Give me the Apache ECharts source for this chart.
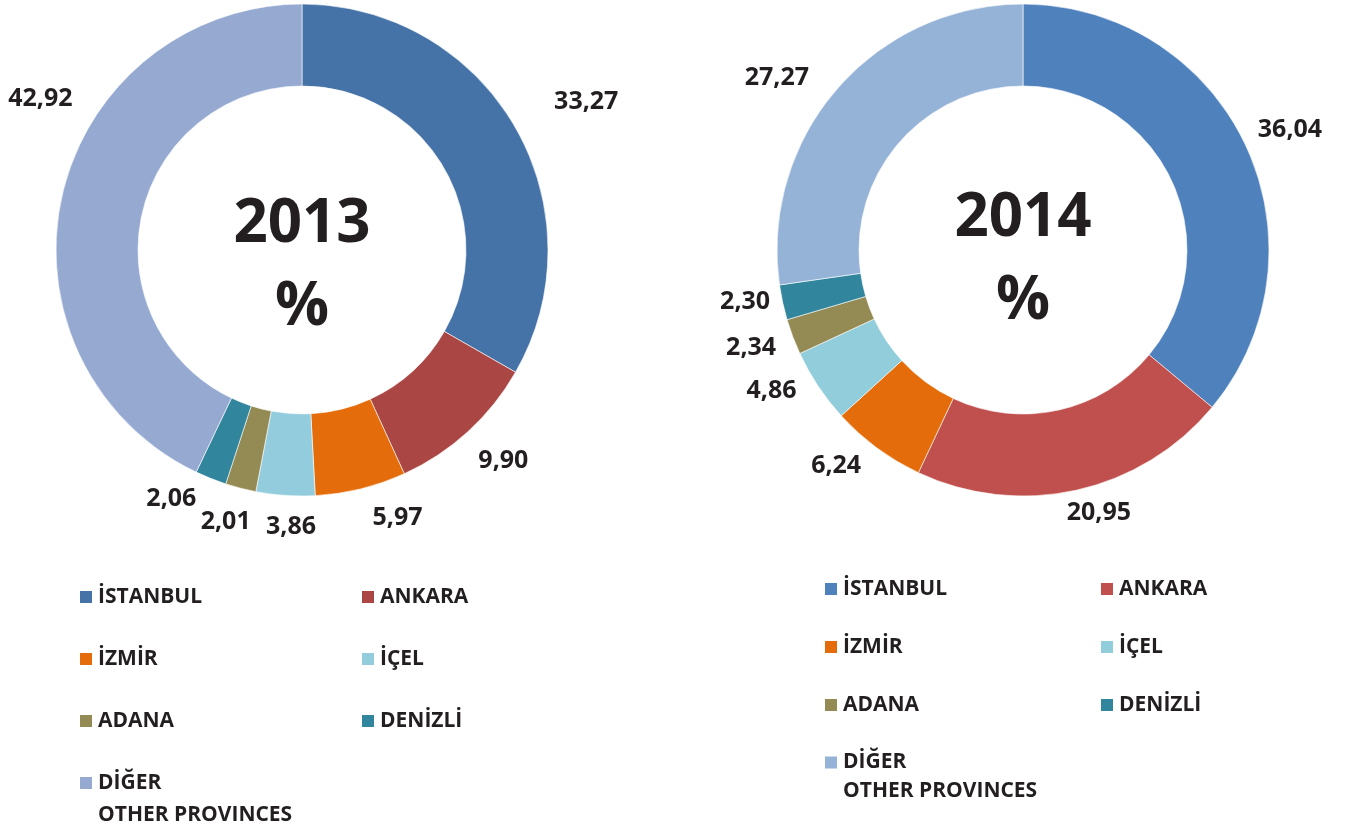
<!DOCTYPE html>
<html>
<head>
<meta charset="utf-8">
<script src="https://cdn.jsdelivr.net/npm/echarts@6/dist/echarts.min.js"></script>
<style>
  html, body { margin: 0; padding: 0; background: #fff; }
  #main { width: 1349px; height: 831px; }
</style>
</head>
<body>
<div id="main"></div>
<script>
// provinces, same order for both years
const provinces = ["İSTANBUL", "ANKARA", "İZMİR", "İÇEL", "ADANA", "DENİZLİ", "DİĞER"];
const values2013 = [33.27, 9.90, 5.97, 3.86, 2.01, 2.06, 42.92];
const values2014 = [36.04, 20.95, 6.24, 4.86, 2.34, 2.30, 27.27];
const otherSub = "OTHER PROVINCES";

const colors2013 = ["#4572a7", "#aa4643", "#e46c0a", "#93cddd", "#948a54", "#31859c", "#95a9d1"];
const colors2014 = ["#4f81bd", "#c0504d", "#e46c0a", "#92cddc", "#948a54", "#31859c", "#95b3d7"];

// the labels in the original were dragged by hand, so nudge them a bit
const nudge2013 = [[17, -15], [-8, 14], [2, 10], [37, 11], [20, 14], [-2, 2], [35, -92]];
const nudge2014 = [[-11, -7], [-19, 3], [1, 2], [0, -6], [7, 4], [12, -5], [-8, 2]];

const textColor = "#231f20";
const font = "'Open Sans', 'DejaVu Sans', sans-serif";

const chart = echarts.init(document.getElementById("main"));

function fmt(v) {
  return v.toFixed(2).replace(".", ",");
}

function pieSeries(name, values, colors, center, nudge) {
  return {
    name: name,
    type: "pie",
    center: center,
    radius: [164, 246],
    startAngle: 90,
    clockwise: true,
    avoidLabelOverlap: false,
    animation: false,
    itemStyle: { borderColor: "#fff", borderWidth: 0.6 },
    label: {
      show: true,
      position: "outside",
      formatter: (p) => fmt(p.value),
      color: textColor,
      fontFamily: font,
      fontWeight: "bold",
      fontSize: 25,
    },
    labelLine: { show: false, length: 20, length2: 0 },
    labelLayout: (p) => ({
      hideOverlap: false,
      dx: nudge[p.dataIndex][0],
      dy: nudge[p.dataIndex][1],
    }),
    emphasis: { disabled: true },
    data: provinces.map((p, i) => ({
      name: p,
      value: values[i],
      itemStyle: { color: colors[i] },
    })),
  };
}

function legendCol(names, colors, left, top, gap, lh) {
  return {
    orient: "vertical",
    left: left,
    top: top,
    padding: 0,
    itemWidth: 14,
    itemHeight: 14,
    itemGap: gap,
    icon: "rect",
    selectedMode: false,
    textStyle: {
      color: textColor,
      fontFamily: font,
      fontWeight: "bold",
      fontSize: 21,
      lineHeight: lh || 22,
    },
    // empty first line keeps the square level with "DİĞER"
    formatter: (n) => (n === "DİĞER" ? " \n" + n + "\n" + otherSub : n),
    data: names.map((n) => ({ name: n, itemStyle: { color: colors[provinces.indexOf(n)] } })),
  };
}

const leftCol = ["İSTANBUL", "İZMİR", "ADANA"];
const rightCol = ["ANKARA", "İÇEL", "DENİZLİ"];
const otherCol = ["DİĞER"];

const centerText = { color: textColor, fontFamily: font, fontWeight: "bold", fontSize: 60, lineHeight: 83 };

const option = {
  backgroundColor: "#fff",
  title: [
    { text: "2013\n%", left: 302, top: 183, padding: 0, textAlign: "center", textStyle: centerText },
    { text: "2014\n%", left: 1023, top: 177, padding: 0, textAlign: "center", textStyle: centerText },
  ],
  legend: [
    legendCol(leftCol, colors2013, 78, 586, 40),
    legendCol(rightCol, colors2013, 360, 586, 40),
    legendCol(otherCol, colors2013, 78, 735, 40, 32),
    legendCol(leftCol, colors2014, 823, 578, 36),
    legendCol(rightCol, colors2014, 1099, 578, 36),
    legendCol(otherCol, colors2014, 823, 719, 36, 29),
  ],
  series: [
    pieSeries("2013", values2013, colors2013, [302, 250], nudge2013),
    pieSeries("2014", values2014, colors2014, [1023, 250], nudge2014),
  ],
};

chart.setOption(option);
</script>
</body>
</html>
